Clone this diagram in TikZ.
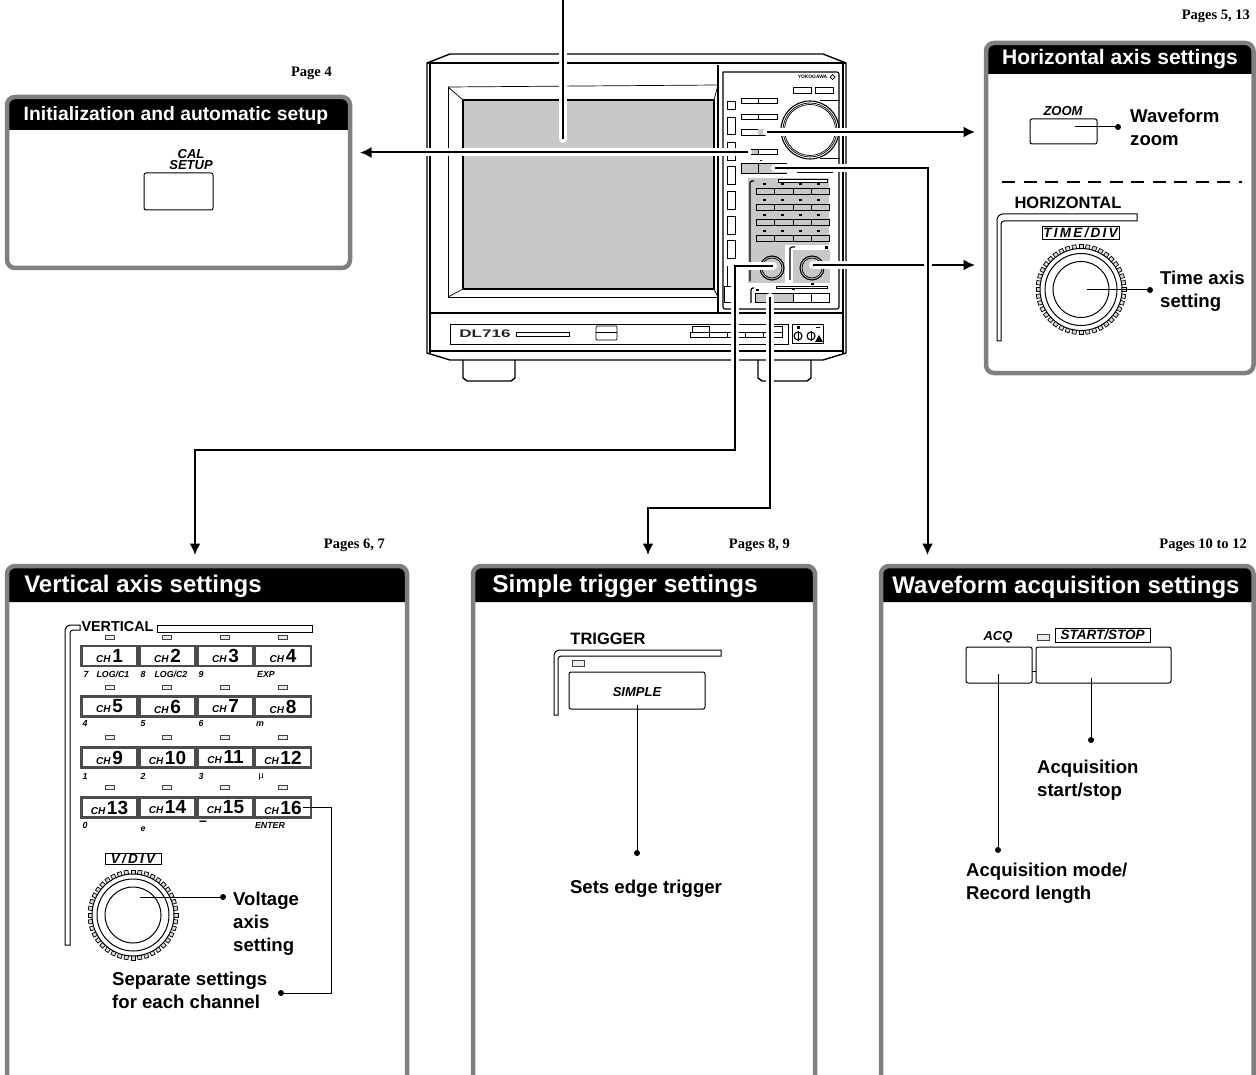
\documentclass[tikz,border=0pt]{standalone}
\usepackage{fontspec}
\setmainfont{Liberation Serif}
\setsansfont{Liberation Sans}
\usepackage{tikz}
\usetikzlibrary{positioning,arrows.meta}

\definecolor{screengray}{HTML}{C8C8C8}
\definecolor{rimgray}{HTML}{808080}

\tikzset{
  panelrim/.style={draw=rimgray,line width=4.5pt,rounded corners=8pt},
  paneltitle/.style={text=white,font=\sffamily\bfseries\fontsize{#1}{#1}\selectfont,inner sep=0pt},
  pagelabel/.style={font=\bfseries\fontsize{14.5}{14.5}\selectfont,anchor=east,inner sep=0pt},
  bodylabel/.style={font=\sffamily\bfseries\fontsize{18.6}{23}\selectfont,align=left,anchor=west,inner sep=0pt},
  headlabel/.style={font=\sffamily\bfseries\fontsize{16.5}{16.5}\selectfont,inner sep=0pt},
  keylabel/.style={font=\sffamily\bfseries\itshape\fontsize{13}{11}\selectfont,align=center,inner sep=0pt},
  framelabel/.style={draw,line width=0.8pt,font=\sffamily\bfseries\itshape\fontsize{13.5}{13.5}\selectfont,inner sep=0pt},
  sublabel/.style={font=\sffamily\bfseries\itshape\fontsize{8.8}{8.8}\selectfont,inner sep=0pt,anchor=base},
  keybox/.style={draw,line width=1pt,rounded corners=2pt,inner sep=0pt},
  chbox/.style={draw=black!70,line width=2.4pt,minimum width=56pt,minimum height=20pt,inner sep=0pt,fill=white},
  ledbox/.style={draw=black!75,line width=1pt,fill=black!8,minimum width=9pt,minimum height=4pt,inner sep=0pt},
  pindot/.style={circle,fill=black,minimum size=6pt,inner sep=0pt},
  leader/.style={line width=1pt},
  wire/.style={line width=2pt,preaction={draw=white,line width=8pt,line cap=round}},
  wiretip/.style={-{Latex[length=11.5pt,width=11pt]}},
  rail/.style={line width=1pt,fill=white},
  body/.style={line width=1.1pt,line join=round},
  fine/.style={line width=0.7pt},
  knob/.pic={
    \foreach \a in {0,9,...,351}
      \draw[line width=0.7pt,fill=black!15,rotate=\a] (39,-2) rectangle (45,2);
    \draw[line width=1pt,fill=white] (0,0) circle (41pt);
    \draw[line width=1pt] (0,0) circle (36pt);
    \draw[line width=1pt] (0,0) circle (28pt);
  }
}

\begin{document}
\begin{tikzpicture}[x=1pt,y=-1pt]
  \useasboundingbox (0,0) rectangle (1256,1075);
  \clip (0,0) rectangle (1256,1075);

  % panels
  \foreach \xa/\ya/\xb/\yb/\yh in {7/97/350/268/130,986/43/1253.5/373/74,7/566/407/1095/602,473/566/815/1095/602,881/566/1253.5/1095/602} {
    \fill[black] (\xa,\yh) [rounded corners=7pt] -- (\xa,\ya) -- (\xb,\ya) [sharp corners] -- (\xb,\yh) -- cycle;
    \draw[panelrim] (\xa,\ya) rectangle (\xb,\yb);
  }
  \node[paneltitle=19.3] (titleinit) at (176,116) {Initialization and automatic setup};
  \node[paneltitle=21] (titlehoriz) at (1120,59) {Horizontal axis settings};
  \node[paneltitle=24] (titlevert) at (143,586) {Vertical axis settings};
  \node[paneltitle=24.5] (titletrig) at (625,586) {Simple trigger settings};
  \node[paneltitle=24] (titlewave) at (1066,587) {Waveform acquisition settings};

  \node[pagelabel] (pageinit) at (332,73) {Page 4};
  \node[pagelabel] (pagehoriz) at (1250,16) {Pages 5, 13};
  \node[pagelabel] (pagevert) at (385,545) {Pages 6, 7};
  \node[pagelabel] (pagetrig) at (790,545) {Pages 8, 9};
  \node[pagelabel] (pagewave) at (1247,545) {Pages 10 to 12};

  % instrument: case and screen
  \draw[body,line width=1.4pt,fill=white] (427,63) -- (450,54) -- (823,54) -- (846,63) -- (846,353) -- (823,360) -- (450,360) -- (427,353) -- cycle;
  \draw[body] (430,353) -- (430,63) -- (843,63) -- (843,353);
  \draw[body] (427,63) -- (846,63);
  \draw[body] (430,313) -- (843,313);
  \draw[body] (430,351) -- (843,351);
  \draw[body] (718,65) -- (718,313);
  \draw[fine] (448,87) -- (718,85) -- (714,100);
  \draw[fine] (448,87) -- (448,297) -- (718,297);
  \draw[body,fill=screengray] (463,100) rectangle (714,289);
  \draw[fine] (448,87) -- (463,100);
  \draw[fine] (448,297) -- (463,289);
  \draw[fine] (718,297) -- (714,289);

  % instrument: feet
  \draw[body,line width=1.4pt] (463,360) -- (463,378) -- (467,381) -- (511,381) -- (515,378) -- (515,360);
  \draw[body,line width=1.4pt] (758,360) -- (758,378) -- (762,381) -- (807,381) -- (811,378) -- (811,360);

  % instrument: control side
  \draw[body] (723,72) [rounded corners=2pt] -- (723,309) -- (839,309) -- (839,72) [sharp corners] -- cycle;
  \node[font=\sffamily\bfseries\fontsize{4.9}{4.9}\selectfont,inner sep=0pt] (logotext) at (812.5,77) {YOKOGAWA};
  \draw[fine] (832.7,74.5) -- (835.2,77) -- (832.7,79.5) -- (830.2,77) -- cycle;
  \draw[fine] (793,87) rectangle (811,93);
  \draw[fine] (815,87) rectangle (833,93);
  \foreach \ya/\yb in {101/109,117/134,142/160,166/184,191/209,216/234,240/258}
    \draw[fine] (727,\ya) rectangle (735,\yb);
  \draw[fine] (727,286) -- (727,266);
  \draw[fine] (724,286) rectangle (738,302);
  \foreach \ya/\yb in {98/103,114/119,129/135,149/154} {
    \draw[fine] (741,\ya) rectangle (777,\yb);
    \draw[fine] (758,\ya) -- (758,\yb);
  }
  \fill[screengray] (758,129) rectangle (767,135);
  \fill[screengray] (748,149) rectangle (758,154);
  \draw[fine] (741,149) rectangle (777,154);
  \fill[screengray] (741,163) rectangle (787,173);
  \draw[fine] (741,163) -- (787,163);
  \draw[fine] (741,173) -- (741,163);
  \draw[fine] (758,163) -- (758,173);
  \draw[fine] (741,173) -- (787,173);
  \draw[fine] (797,172) -- (833,172);
  \fill (760,160) rectangle (762,161.5);

  % instrument: main dial
  \draw[body] (810,130) circle (29pt);
  \draw[fine] (810,130) circle (27pt);
  \draw[fine] (810,130) circle (25.5pt);
  \draw[fine] (820,100) -- (840,100);
  \draw[fine] (820,158) -- (840,158);

  % instrument: gray key blocks
  \fill[screengray] (748,178) rectangle (829,245);
  \fill[screengray] (748,245) rectangle (785,283);
  \fill[screengray] (793,250) rectangle (830,283);
  \draw[line width=1.2pt] (750,281) [rounded corners=2pt] -- (750,181) -- (754,181);
  \fill[white] (778,180) rectangle (827,182);
  \draw[fine] (778,179.5) rectangle (827,182);
  \foreach \y in {188,204,219,235} {
    \draw[fine,fill=screengray] (756,\y) rectangle (829,\y+6);
    \foreach \x in {774,793,811}
      \draw[fine] (\x,\y) -- (\x,\y+6);
    \foreach \x in {764,782,800,818}
      \fill (\x-1.5,\y-4.5) rectangle (\x+1.5,\y-2.5);
  }
  \draw[line width=1.2pt] (790,280) [rounded corners=2pt] -- (790,247) -- (795,247);
  \fill (824.5,246) rectangle (828,249);
  \draw[body] (772,268) circle (12pt);
  \draw[fine] (772,268) circle (10pt);
  \draw[body] (812,268) circle (12pt);
  \draw[fine] (812,268) circle (10pt);
  \draw[fine] (776,286.5) rectangle (827,288.5);
  \fill (810.5,283) rectangle (814,285);
  \fill (755.5,289) rectangle (758.5,291);
  \fill (791.5,288.5) rectangle (794.5,290.5);
  \draw[line width=1.2pt] (751,303) [rounded corners=2pt] -- (751,288) -- (754,288);
  \draw[fine,fill=screengray] (755,293) rectangle (793,302);
  \draw[fine] (793,293) rectangle (829,302);
  \draw[fine] (811,293) -- (811,302);

  % instrument: lower strip
  \draw[fine] (450,324) rectangle (788,344);
  \node[font=\sffamily\bfseries\fontsize{11}{11}\selectfont,text=black!85,xscale=1.55,inner sep=0pt] (modelname) at (485,334) {DL716};
  \draw[fine] (516,332) rectangle (569,336);
  \draw[fine] (596,326) [rounded corners=1pt] rectangle (617,340);
  \draw[fine] (596,332) -- (617,332);
  \draw[fine] (692,326) rectangle (709,332);
  \draw[fine] (690,332) rectangle (782,337);
  \foreach \x in {709,727,745,763}
    \draw[fine] (\x,332) -- (\x,337);
  \draw[fine] (773,326) rectangle (782,337);
  \draw[fine] (792,324) rectangle (823,343);
  \draw[body] (798,336) circle (4pt);
  \draw[body] (811,336) circle (4pt);
  \draw[fine] (798,331) -- (798,341);
  \draw[fine] (811,331) -- (811,341);
  \fill (815,342) -- (819,335) -- (823,342) -- cycle;
  \fill (796.5,326.5) rectangle (799.5,329.5);
  \draw[fine] (816,327) -- (820,327);

  % wires out of the instrument
  \coordinate (topend) at (563,0);
  \coordinate (screenpt) at (563,139);
  \coordinate (calkey) at (748,152.5);
  \coordinate (initend) at (360,152.5);
  \coordinate (zoomkey) at (767,132);
  \coordinate (zoomend) at (975,132);
  \coordinate (timeknob) at (813,265);
  \coordinate (timeend) at (975,265);
  \coordinate (acqkey) at (775,168);
  \coordinate (acqturn) at (927.5,168);
  \coordinate (acqend) at (927.5,555);
  \coordinate (voltknob) at (773,266);
  \coordinate (voltturna) at (735,266);
  \coordinate (voltturnb) at (735,450);
  \coordinate (voltturnc) at (195,450);
  \coordinate (voltend) at (195,555);
  \coordinate (trigkey) at (770,297);
  \coordinate (trigturna) at (770,508);
  \coordinate (trigturnb) at (648,508);
  \coordinate (trigend) at (648,555);

  \draw[wire] (topend) -- (screenpt);
  \draw[wire,wiretip] (calkey) -- (initend);
  \draw[wire,wiretip] (zoomkey) -- (zoomend);
  \draw[wire,wiretip] (timeknob) -- (timeend);
  \draw[wire,wiretip] (acqkey) -- (acqturn) -- (acqend);
  \draw[wire,wiretip] (voltknob) -- (voltturna) -- (voltturnb) -- (voltturnc) -- (voltend);
  \draw[wire,wiretip] (trigkey) -- (trigturna) -- (trigturnb) -- (trigend);

  % initialization panel
  \node[keybox,minimum width=69pt,minimum height=37pt] (calbtn) at (178.5,191.5) {};
  \node[keylabel] (callabel) at (191,160) {CAL\\SETUP};

  % horizontal panel
  \node[keylabel] (zoomlabel) at (1063,111) {ZOOM};
  \node[keybox,minimum width=67pt,minimum height=25pt] (zoombtn) at (1063.5,131.5) {};
  \node[pindot] (zoomdot) at (1118,127) {};
  \coordinate (zoomin) at (1075,127);
  \draw[leader] (zoomin) -- (zoomdot);
  \node[bodylabel] (zoomtext) at (1130,127) {Waveform\\zoom};
  \draw[line width=1.2pt,dash pattern=on 13pt off 8.5pt] (1002,182) -- (1242,182);
  \node[headlabel] (horizhead) at (1068,203) {HORIZONTAL};
  \draw[rail] (997,341) [rounded corners=6pt] -- (997,214) [sharp corners] -- (1137,214) -- (1137,221) [rounded corners=3pt] -- (1001,221) [sharp corners] -- (1001,341) -- cycle;
  \node[framelabel,minimum width=77pt,minimum height=13pt] (timelabel) at (1080.5,232.5) {T\,I\,M\,E\,/\,D\,I\,V};
  \pic at (1081,289.5) {knob};
  \coordinate (timein) at (1087,290);
  \node[pindot] (timedot) at (1150,290) {};
  \draw[leader] (timein) -- (timedot);
  \node[bodylabel] (timetext) at (1160,291.5) {Time axis\\setting};

  % vertical panel
  \node[headlabel,font=\sffamily\bfseries\fontsize{14.4}{14.4}\selectfont] (verthead) at (117.5,627) {VERTICAL};
  \draw[fine] (157,625) rectangle (312,632);
  \draw[rail] (65,945) [rounded corners=6pt] -- (65,625) [sharp corners] -- (80,625) -- (80,630) [rounded corners=3pt] -- (70,630) [sharp corners] -- (70,945) -- cycle;
  \foreach \r/\yb/\yl in {0/656/637,1/706.5/687,2/757.5/737,3/807.5/787}
    \foreach \c/\xb/\xl in {1/109.5/110,2/167.5/167,3/225.5/225,4/283/283} {
      \pgfmathtruncatemacro\chnum{\r*4+\c}
      \node[ledbox] (led\chnum) at (\xl,\yl) {};
      \node[chbox] (ch\chnum) at (\xb,\yb) {{\sffamily\bfseries\itshape\fontsize{10}{10}\selectfont CH}\,{\sffamily\bfseries\fontsize{19}{19}\selectfont\chnum}};
    }
  \foreach \t/\x/\y [count=\i] in {7/86/677,LOG{/}C1/113/677,8/143/677,LOG{/}C2/171/677,9/201/677,EXP/266/677,4/85/726,5/143/726,6/201/726,m/260/726,1/85/779,2/143/779,3/201/779,0/85/828,e/143/831,ENTER/270/828}
    \node[sublabel] (sub\i) at (\x,\y) {\t};
  \node[font=\fontsize{10}{10}\selectfont,inner sep=0pt] (submu) at (261,777) {µ};
  \node[sublabel,font=\sffamily\bfseries\fontsize{14}{14}\selectfont,anchor=center] (subminus) at (203,823.5) {--};
  \node[framelabel,minimum width=56pt,minimum height=11pt] (vdivlabel) at (133,858.5) {V\,/\,D\,I\,V};
  \pic at (133,915) {knob};
  \coordinate (voltin) at (140,897);
  \node[pindot] (voltdot) at (223,897) {};
  \draw[leader] (voltin) -- (voltdot);
  \node[bodylabel] (volttext) at (233,923.5) {Voltage\\axis\\setting};
  \coordinate (chin) at (303,807);
  \coordinate (chturna) at (331,807);
  \coordinate (chturnb) at (331,993);
  \node[pindot] (chdot) at (281,993) {};
  \draw[leader] (chin) -- (chturna) -- (chturnb) -- (chdot);
  \node[bodylabel] (chtext) at (112,990.5) {Separate settings\\for each channel};

  % trigger panel
  \node[headlabel] (trighead) at (608,639) {TRIGGER};
  \draw[rail] (554,715) [rounded corners=6pt] -- (554,650) [sharp corners] -- (721,650) -- (721,656) [rounded corners=3pt] -- (558,656) [sharp corners] -- (558,715) -- cycle;
  \node[ledbox,minimum width=12pt,minimum height=6pt] (trigled) at (578.5,663) {};
  \node[keybox,minimum width=136pt,minimum height=37pt] (simplebtn) at (637,690.5) {};
  \node[keylabel] (simplelabel) at (637,692) {SIMPLE};
  \node[pindot] (simpledot) at (637,853) {};
  \coordinate (simplein) at (637,705);
  \draw[leader] (simplein) -- (simpledot);
  \node[bodylabel,anchor=center] (simpletext) at (646,888.5) {Sets edge trigger};

  % waveform panel
  \node[keylabel] (acqlabel) at (998,637) {ACQ};
  \node[ledbox,minimum width=12pt,minimum height=6pt] (acqled) at (1043.5,637.5) {};
  \node[framelabel,minimum width=95pt,minimum height=14pt] (startlabel) at (1102.5,635) {START/STOP};
  \coordinate (acqbridge) at (1032,671);
  \coordinate (startbridge) at (1036,671);
  \draw[leader] (acqbridge) -- (startbridge);
  \node[keybox,minimum width=66pt,minimum height=36pt] (acqbtn) at (999,665) {};
  \node[keybox,minimum width=135pt,minimum height=36pt] (startbtn) at (1103.5,665) {};
  \coordinate (modein) at (998,674);
  \node[pindot] (modedot) at (998,850) {};
  \draw[leader] (modein) -- (modedot);
  \coordinate (startin) at (1091,678);
  \node[pindot] (startdot) at (1091,740) {};
  \draw[leader] (startin) -- (startdot);
  \node[bodylabel] (starttext) at (1037,780) {Acquisition\\start/stop};
  \node[bodylabel] (modetext) at (966,883) {Acquisition mode/\\Record length};
\end{tikzpicture}
\end{document}
